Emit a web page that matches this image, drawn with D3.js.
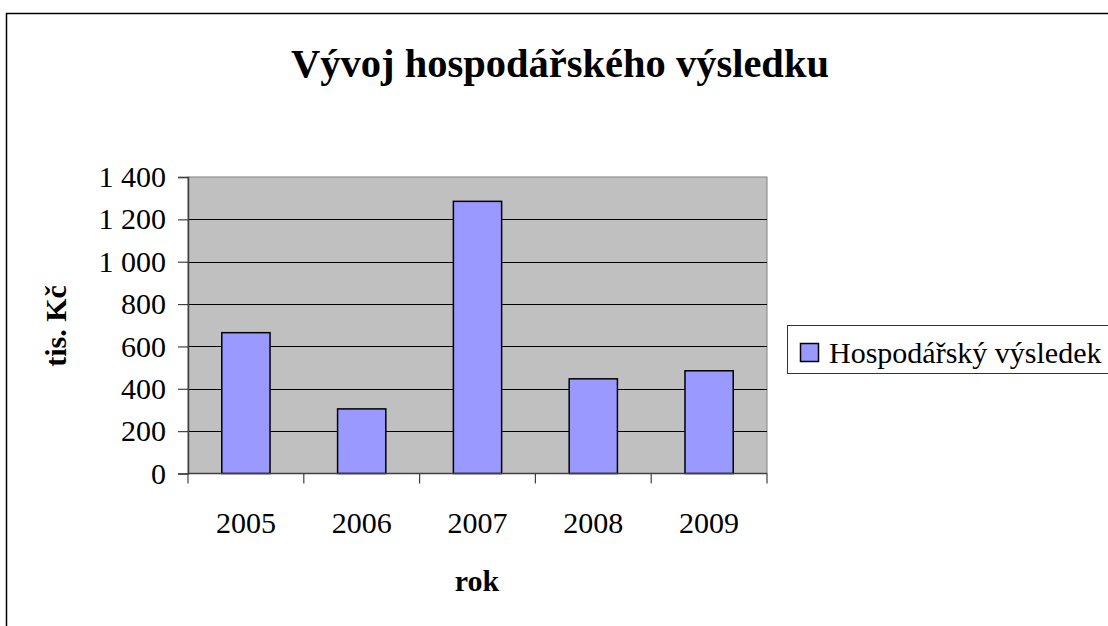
<!DOCTYPE html>
<html>
<head>
<meta charset="utf-8">
<script src="https://cdn.jsdelivr.net/npm/d3@7"></script>
<style>
  html, body { margin: 0; padding: 0; background: #fff; }
  svg { display: block; }
  text { font-family: "Liberation Serif", "Times New Roman", serif; }
</style>
</head>
<body>
<svg id="chart" width="1108" height="626"></svg>
<script>
const categories = ["2005", "2006", "2007", "2008", "2009"];
const values = [665, 305, 1285, 447, 485];
const seriesName = "Hospodářský výsledek";
const yTicks = [0, 200, 400, 600, 800, 1000, 1200, 1400];
const title = "Vývoj hospodářského výsledku";
const xTitle = "rok";
const yTitle = "tis. Kč";

const svg = d3.select("#chart");
const plot = { left: 188, right: 767, top: 177, bottom: 473.5 };

const x = d3.scaleBand().domain(categories).range([plot.left, plot.right]).padding(0);
const y = d3.scaleLinear().domain([0, 1400]).range([plot.bottom, plot.top]);
const fmt = d3.formatLocale({ decimal: ",", thousands: " ", grouping: [3], currency: ["", " Kč"] }).format(",d");

// outer border
svg.append("rect").attr("x", 6.5).attr("y", 13.5).attr("width", 1120).attr("height", 640)
  .attr("fill", "#fff").attr("stroke", "#000").attr("stroke-width", 1.5);

// title
svg.append("text").attr("x", 560).attr("y", 77).attr("text-anchor", "middle")
  .attr("font-size", 40.5).attr("font-weight", "bold").text(title);

// plot background
svg.append("rect").attr("x", plot.left).attr("y", plot.top)
  .attr("width", plot.right - plot.left).attr("height", plot.bottom - plot.top)
  .attr("fill", "#c0c0c0").attr("stroke", "#808080").attr("stroke-width", 1);

// gridlines
svg.append("g").selectAll("line").data(yTicks.filter(d => d > 0 && d < 1400)).join("line")
  .attr("x1", plot.left).attr("x2", plot.right)
  .attr("y1", d => Math.round(y(d)) + 0.5).attr("y2", d => Math.round(y(d)) + 0.5)
  .attr("stroke", "#000").attr("stroke-width", 1);

// bars
const barW = x.bandwidth() / 2.4;
svg.append("g").selectAll("rect").data(values).join("rect")
  .attr("x", (d, i) => x(categories[i]) + (x.bandwidth() - barW) / 2)
  .attr("y", d => y(d))
  .attr("width", barW)
  .attr("height", d => plot.bottom - y(d))
  .attr("fill", "#9999ff").attr("stroke", "#000").attr("stroke-width", 1.5);

// y axis
const yAxis = d3.axisLeft(y).tickValues(yTicks).tickFormat(fmt).tickSize(10).tickPadding(12);
const gy = svg.append("g").attr("transform", `translate(${plot.left},0)`).call(yAxis);
gy.select(".domain").attr("stroke", "#404040").attr("stroke-width", 1.5);
gy.selectAll(".tick line").attr("stroke", "#404040").attr("stroke-width", 1.2);
gy.selectAll(".tick text").attr("font-size", 30).attr("fill", "#000")
  .attr("font-family", "Liberation Serif, Times New Roman, serif");

// x axis (ticks at band boundaries)
const boundaries = categories.map(c => x(c)).concat([plot.right]);
const gx = svg.append("g");
gx.append("line").attr("x1", plot.left).attr("x2", plot.right)
  .attr("y1", plot.bottom).attr("y2", plot.bottom).attr("stroke", "#404040").attr("stroke-width", 1.5);
gx.selectAll("line.tk").data(boundaries).join("line").attr("class", "tk")
  .attr("x1", d => d).attr("x2", d => d).attr("y1", plot.bottom).attr("y2", plot.bottom + 10)
  .attr("stroke", "#404040").attr("stroke-width", 1.2);
gx.selectAll("text").data(categories).join("text")
  .attr("x", d => x(d) + x.bandwidth() / 2).attr("y", 533)
  .attr("text-anchor", "middle").attr("font-size", 30).text(d => d);

// axis titles
svg.append("text").attr("x", 477).attr("y", 591).attr("text-anchor", "middle")
  .attr("font-size", 30).attr("font-weight", "bold").text(xTitle);
svg.append("text").attr("transform", "translate(66,326) rotate(-90)").attr("text-anchor", "middle")
  .attr("font-size", 30).attr("font-weight", "bold").text(yTitle);

// legend
const lg = svg.append("g");
lg.append("rect").attr("x", 787.5).attr("y", 325.5).attr("width", 340).attr("height", 48)
  .attr("fill", "#fff").attr("stroke", "#333").attr("stroke-width", 1);
lg.append("rect").attr("x", 800.5).attr("y", 343.5).attr("width", 18).attr("height", 18)
  .attr("fill", "#9999ff").attr("stroke", "#000").attr("stroke-width", 1.5);
lg.append("text").attr("x", 829).attr("y", 363).attr("font-size", 30).text(seriesName);
</script>
</body>
</html>
